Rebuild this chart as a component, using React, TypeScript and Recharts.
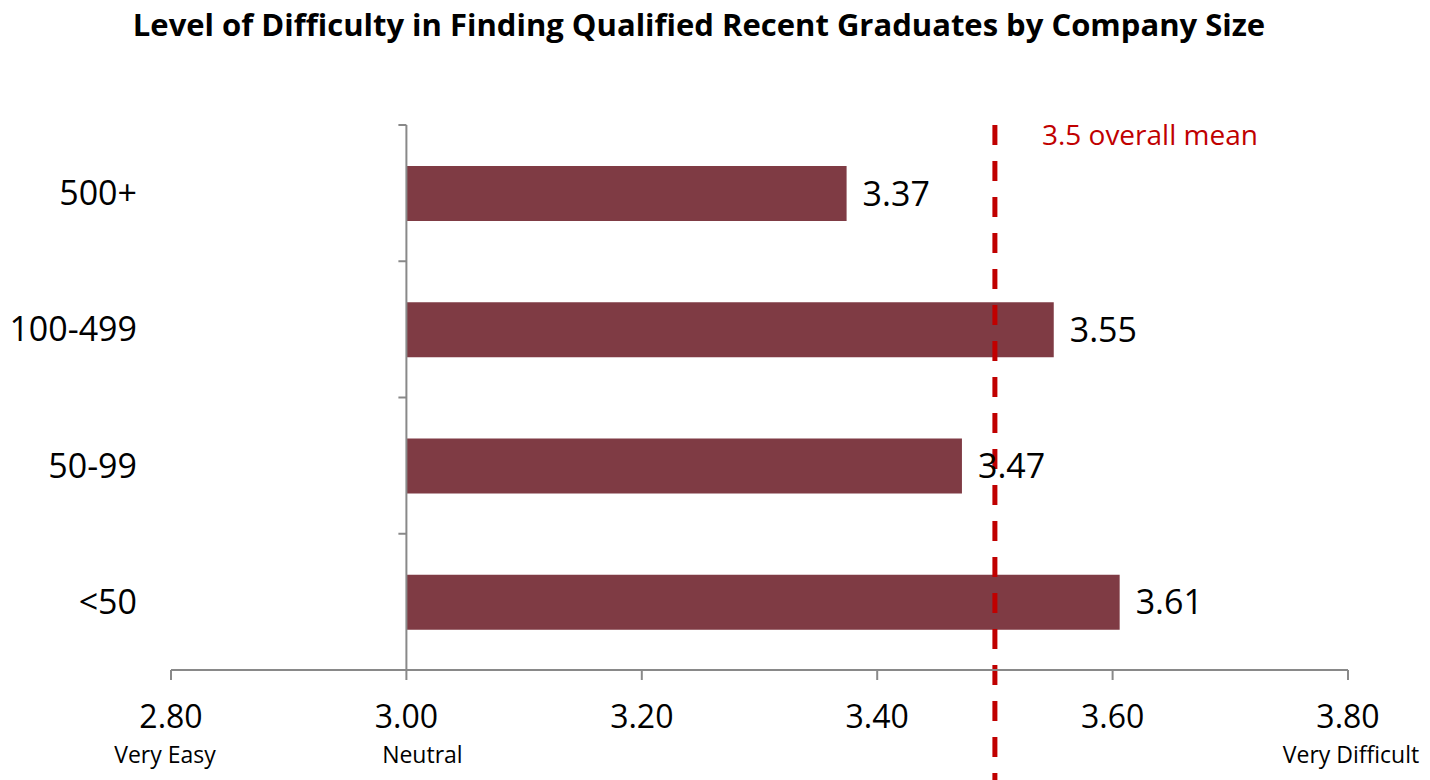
import { BarChart, Bar, XAxis, YAxis, ReferenceLine, LabelList } from 'recharts';

const categories = ['500+', '100-499', '50-99', '<50'];
const means = [3.374, 3.55, 3.472, 3.606];
const xTicks = [2.8, 3.0, 3.2, 3.4, 3.6, 3.8];
const xSubLabels = ['Very Easy', 'Neutral', '', '', '', 'Very Difficult'];
const neutral = 3.0;
const overallMean = 3.5;

const FONT = '"Open Sans", "Noto Sans", sans-serif';

const data = categories.map((name, i) => ({ name, range: [neutral, means[i]], value: means[i] }));

function XTick(props: any) {
  const { x, y, payload, index } = props;
  const sub = xSubLabels[index];
  const shift = index === 0 ? -6 : index === xTicks.length - 1 ? 3 : 16;
  return (
    <g>
      <text x={x} y={y + 46} textAnchor="middle" fontSize={32} fill="#000" fontFamily={FONT}>
        {Number(payload.value).toFixed(2)}
      </text>
      {sub && (
        <text x={x + shift} y={y + 81} textAnchor="middle" fontSize={23} fill="#000" fontFamily={FONT}>
          {sub}
        </text>
      )}
    </g>
  );
}

function CategoryTick(props: any) {
  const { y, payload } = props;
  return (
    <text x={137} y={y} dy={12} textAnchor="end" fontSize={34} fill="#000" fontFamily={FONT}>
      {payload.value}
    </text>
  );
}

function NeutralAxis(props: any) {
  const x = props.x1;
  const top = Math.min(props.y1, props.y2);
  const bottom = Math.max(props.y1, props.y2);
  const step = (bottom - top) / categories.length;
  return (
    <g>
      <line x1={x} y1={top} x2={x} y2={bottom} stroke="#898989" strokeWidth={2} />
      {categories.map((_, i) => (
        <line key={i} x1={x - 8} x2={x} y1={top + step * i} y2={top + step * i} stroke="#898989" strokeWidth={2} />
      ))}
    </g>
  );
}

function MeanLine(props: any) {
  const x = props.x1;
  const top = Math.min(props.y1, props.y2);
  return (
    <g>
      <line x1={x} y1={top} x2={x} y2={780} stroke="#C00000" strokeWidth={5} strokeDasharray="20 16" />
      <text x={x + 47} y={top + 20} fontSize={28} fill="#C00000" fontFamily={FONT}>
        {overallMean} overall mean
      </text>
    </g>
  );
}

export default function App() {
  return (
    <div style={{ position: 'absolute', left: 0, top: 0, width: 1430, height: 780, background: '#fff', fontFamily: FONT }}>
      <div
        style={{
          position: 'absolute',
          top: 3,
          left: 0,
          width: 1398,
          textAlign: 'center',
          fontSize: 31,
          fontWeight: 700,
          color: '#000',
          fontFamily: FONT,
        }}
      >
        Level of Difficulty in Finding Qualified Recent Graduates by Company Size
      </div>
      <BarChart
        width={1430}
        height={780}
        data={data}
        layout="vertical"
        margin={{ top: 125, right: 82, bottom: 0, left: 0 }}
        barCategoryGap="30%"
      >
        <XAxis
          type="number"
          domain={[2.8, 3.8]}
          ticks={xTicks}
          allowDataOverflow
          height={110}
          stroke="#898989"
          strokeWidth={2}
          tickSize={10}
          tick={<XTick />}
          interval={0}
        />
        <YAxis
          type="category"
          dataKey="name"
          width={171}
          axisLine={false}
          tickLine={false}
          tick={<CategoryTick />}
        />
        <ReferenceLine x={neutral} shape={<NeutralAxis />} />
        <Bar dataKey="range" fill="#7F3B44" barSize={55} isAnimationActive={false}>
          <LabelList
            dataKey="value"
            position="right"
            offset={16}
            fontSize={34}
            fill="#000"
            fontFamily={FONT}
            formatter={(v: any) => Number(v).toFixed(2)}
          />
        </Bar>
        <ReferenceLine x={overallMean} shape={<MeanLine />} />
      </BarChart>
    </div>
  );
}
